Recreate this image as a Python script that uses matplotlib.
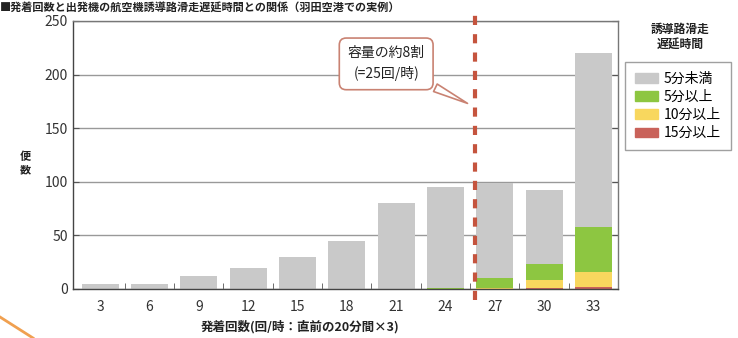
import matplotlib
matplotlib.use('Agg')
import matplotlib.pyplot as plt
from matplotlib.lines import Line2D
from matplotlib.patches import Patch

plt.rcParams['font.family'] = ['Noto Sans CJK JP', 'DejaVu Sans']

# 発着回数（回/時）
categories = ['3', '6', '9', '12', '15', '18', '21', '24', '27', '30', '33']
# 誘導路滑走遅延時間ごとの便数
under5 = [5, 5, 12, 20, 30, 45, 80, 94, 89, 69, 162]
over5 = [0, 0, 0, 0, 0, 0, 0, 1, 9, 15, 42]
over10 = [0, 0, 0, 0, 0, 0, 0, 0, 1, 7, 14]
over15 = [0, 0, 0, 0, 0, 0, 0, 0, 0, 1, 2]
series = [under5, over5, over10, over15]
labels = ['5分未満', '5分以上', '10分以上', '15分以上']
colors = ['#c9c9c9', '#8dc641', '#f8d75e', '#c9625a']

fig = plt.figure(figsize=(7.38, 3.38), dpi=100)
ax = fig.add_axes([73 / 738, 1 - 289 / 338, 545 / 738, 268 / 338])

x = list(range(len(categories)))
# 積み上げ順: 下から15分以上 → 10分以上 → 5分以上 → 5分未満
order = [3, 2, 1, 0]
bottom = [0] * len(x)
for k in order:
    ax.bar(x, series[k], 0.75, bottom=bottom, color=colors[k], zorder=2)
    bottom = [b + v for b, v in zip(bottom, series[k])]

ax.set_ylim(0, 250)
ax.set_xlim(-0.55, len(x) - 0.5)
ax.set_yticks([0, 50, 100, 150, 200, 250])
ax.set_xticks(x)
ax.set_xticklabels(categories)
ax.set_xticks([i + 0.5 for i in x[:-1]], minor=True)
ax.tick_params(axis='x', which='major', length=0, labelsize=10, pad=8, colors='#333333')
ax.tick_params(axis='x', which='minor', direction='in', length=4, color='#555555')
ax.tick_params(axis='y', direction='in', length=4, labelsize=10, right=True, color='#555555', labelcolor='#333333')
ax.yaxis.grid(True, color='#999999', linewidth=1, zorder=0)
ax.set_axisbelow(True)
for s in ax.spines.values():
    s.set_color('#777777')
    s.set_linewidth(1)
ax.spines['left'].set_color('#444444')
ax.spines['bottom'].set_color('#444444')

# 容量の約8割の境界線
ax.axvline(7.6, ymin=-0.04, ymax=1.04, color='#c5543e', linestyle=(0, (2.2, 2.2)),
           linewidth=3, clip_on=False, zorder=4)

ax.annotate('容量の約8割\n(=25回/時)', xy=(7.5, 172), xytext=(5.8, 210),
            ha='center', va='center', fontsize=10, color='#222222', linespacing=1.5,
            bbox=dict(boxstyle='round,pad=0.6,rounding_size=0.5', fc='white', ec='#c98272', lw=1.2),
            arrowprops=dict(arrowstyle='wedge,tail_width=0.6,shrink_factor=0.5', fc='white',
                            ec='#c98272', lw=1.2),
            zorder=5)

ax.set_xlabel('発着回数(回/時：直前の20分間×3)', fontsize=9, labelpad=0, color='#222222',
              fontweight='bold')
ax.xaxis.set_label_coords(0.416, -0.115)
fig.text(25 / 738, 1 - 163 / 338, '便\n数', fontsize=8, ha='center', va='center',
         linespacing=1.0, color='#222222', fontweight='bold')

handles = [Patch(color=colors[k]) for k in range(4)]
leg = fig.legend(handles, labels, loc='upper left', bbox_to_anchor=(625 / 738, 1 - 62 / 338),
                 fontsize=10, frameon=True, fancybox=False, handlelength=1.7, handleheight=0.7,
                 handletextpad=0.4, labelspacing=0.3, borderpad=0.7, borderaxespad=0)
leg.get_frame().set_edgecolor('#888888')
leg.get_frame().set_linewidth(1)
fig.text(680 / 738, 1 - 37 / 338, '誘導路滑走\n遅延時間', fontsize=8.5, ha='center', va='center',
         fontweight='bold', linespacing=1.3, color='#222222')

fig.text(0.0, 1 - 0.5 / 338, '■発着回数と出発機の航空機誘導路滑走遅延時間との関係（羽田空港での実例）',
         fontsize=8, ha='left', va='top', fontweight='bold', color='#222222')

fig.add_artist(Line2D([0, 33 / 738], [1 - 317 / 338, 0], color='#f0a050', lw=2))

fig.savefig('out.png', dpi=100)
